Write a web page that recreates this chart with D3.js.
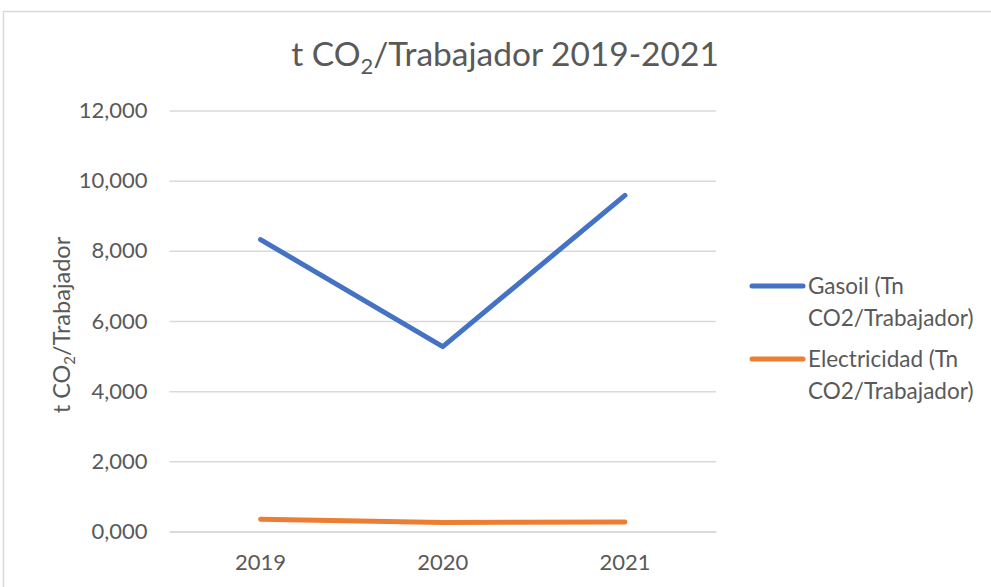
<!DOCTYPE html>
<html>
<head>
<meta charset="utf-8">
<script src="https://cdn.jsdelivr.net/npm/d3@7"></script>
<style>
  body { margin: 0; background: #fff; }
  text { font-family: Lato, "Open Sans", sans-serif; fill: #595959; }
</style>
</head>
<body>
<div id="my_chart"></div>
<script>
// data (t CO2 per worker)
var years = ["2019", "2020", "2021"];
var gasoil = [8.32, 5.27, 9.58];
var electricidad = [0.35, 0.26, 0.27];
var yTicks = [0, 2, 4, 6, 8, 10, 12];
var legendLines = [["Gasoil (Tn", "CO2/Trabajador)"], ["Electricidad (Tn", "CO2/Trabajador)"]];
var colors = ["#4472c4", "#ed7d31"];

var width = 991, height = 587;
var margin = {left: 169.5, right: 716, top: 110.5, bottom: 531.5};

var svg = d3.select("#my_chart")
  .append("svg")
    .attr("width", width)
    .attr("height", height);

// outer chart frame (cut at right and bottom like the screenshot)
svg.append("rect")
  .attr("x", 3.5).attr("y", 11.5)
  .attr("width", 1100).attr("height", 700)
  .style("fill", "none").style("stroke", "#d9d9d9").style("stroke-width", 1.5);

var x = d3.scaleBand().domain(years).range([margin.left, margin.right]);
var y = d3.scaleLinear().domain([0, 12]).range([margin.bottom, margin.top]);

var fmt = d3.formatLocale({decimal: ",", thousands: ".", grouping: [3], currency: ["", "€"]}).format(".3f");

// gridlines + y labels
var yAxis = d3.axisLeft(y).tickValues(yTicks).tickSize(-(margin.right - margin.left)).tickFormat(fmt).tickPadding(22);
var gy = svg.append("g").attr("transform", "translate(" + margin.left + ",0)").call(yAxis);
gy.select(".domain").remove();
gy.selectAll(".tick line").style("stroke", "#d9d9d9").style("stroke-width", 1.5);
gy.selectAll(".tick text").style("font-size", "22px").attr("fill", "#595959");

// x axis labels
var xAxis = d3.axisBottom(x).tickSize(0).tickPadding(23);
var gx = svg.append("g").attr("transform", "translate(0," + margin.bottom + ")").call(xAxis);
gx.select(".domain").style("stroke", "#d9d9d9").style("stroke-width", 1.5);
gx.selectAll(".tick text").style("font-size", "22px").attr("fill", "#595959");

// lines
var line = d3.line()
  .x(function(d, i) { return x(years[i]) + x.bandwidth() / 2; })
  .y(function(d) { return y(d); });

[gasoil, electricidad].forEach(function(s, k) {
  svg.append("path")
    .datum(s)
    .attr("d", line)
    .style("fill", "none")
    .style("stroke", colors[k])
    .style("stroke-width", 5)
    .style("stroke-linecap", "round")
    .style("stroke-linejoin", "round");
});

// title
var title = svg.append("text")
  .attr("x", 505).attr("y", 66)
  .attr("text-anchor", "middle")
  .style("font-size", "33.5px");
title.append("tspan").text("t CO");
title.append("tspan").attr("dy", 8).style("font-size", "22px").text("2");
title.append("tspan").attr("dy", -8).text("/Trabajador 2019-2021");

// y axis title
var ylab = svg.append("text")
  .attr("transform", "translate(70," + ((margin.top + margin.bottom) / 2 + 4) + ") rotate(-90)")
  .attr("text-anchor", "middle")
  .style("font-size", "23.5px");
ylab.append("tspan").text("t CO");
ylab.append("tspan").attr("dy", 5).style("font-size", "15px").text("2");
ylab.append("tspan").attr("dy", -5).text("/Trabajador");

// legend
var leg = svg.selectAll("g.leg")
  .data(legendLines)
  .enter()
  .append("g")
    .attr("class", "leg")
    .attr("transform", function(d, i) { return "translate(0," + (286 + i * 73) + ")"; });

leg.append("line")
  .attr("x1", 752).attr("x2", 803)
  .style("stroke", function(d, i) { return colors[i]; })
  .style("stroke-width", 5)
  .style("stroke-linecap", "round");

leg.selectAll("text.l")
  .data(function(d) { return d; })
  .enter()
  .append("text")
    .attr("x", 808)
    .attr("y", function(d, j) { return 8 + j * 32; })
    .style("font-size", "22.5px")
    .text(function(d) { return d; });
</script>
</body>
</html>
